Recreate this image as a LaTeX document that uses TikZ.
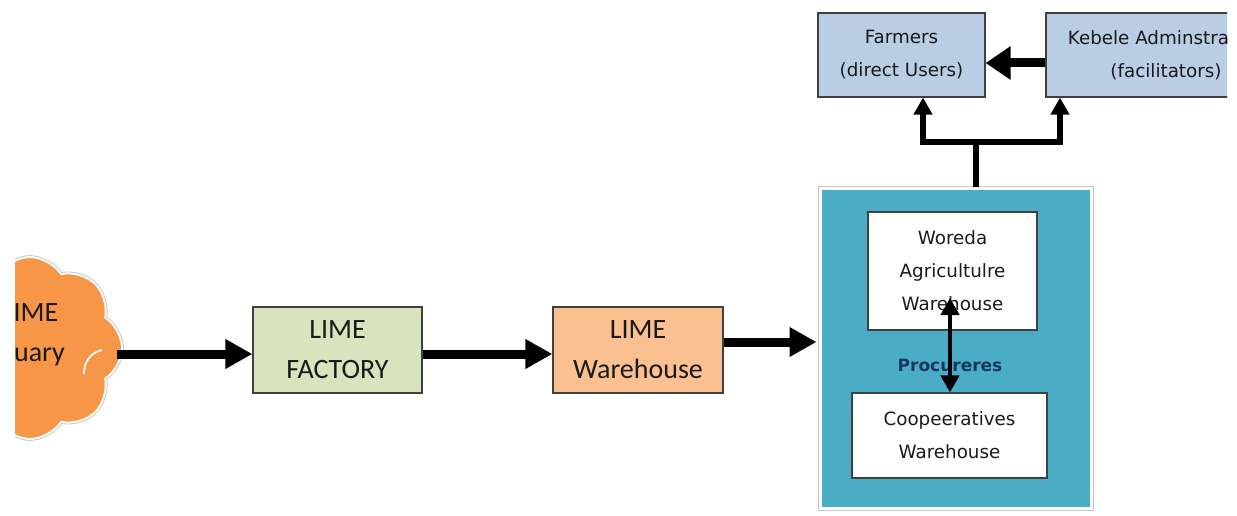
\documentclass[tikz,border=0pt]{standalone}
\usepackage{fontspec}
\setmainfont{Carlito}
\newfontfamily\plainsans{DejaVu Sans}
\usetikzlibrary{arrows.meta,shapes.symbols}

\definecolor{quarryorange}{HTML}{F79646}
\definecolor{factorygreen}{HTML}{D7E4BD}
\definecolor{storeorange}{HTML}{FAC090}
\definecolor{userblue}{HTML}{B9CDE5}
\definecolor{procblue}{HTML}{4BACC6}
\definecolor{navytext}{HTML}{17375E}
\definecolor{boxline}{HTML}{404040}
\definecolor{inktext}{HTML}{1A1A1A}

\begin{document}
\begin{tikzpicture}[x=1pt,y=-1pt,
  box/.style={draw=boxline, line width=1.2pt, inner sep=0pt, align=center, text=inktext},
  bigtext/.style={font=\fontsize{28pt}{40pt}\selectfont},
  smalltext/.style={font=\plainsans\fontsize{18.3pt}{33pt}\selectfont},
  flow/.style={line width=9pt, -{Triangle[length=27pt,width=28pt]}},
  userflow/.style={line width=9pt, -{Triangle[length=25pt,width=32pt]}},
  branch/.style={line width=6pt, line join=miter, -{Triangle[length=17pt,width=18pt]}},
  twoway/.style={line width=4.5pt, {Triangle[length=17pt,width=18pt]}-{Triangle[length=17pt,width=18pt]}}
]
\useasboundingbox (0,0) rectangle (1237,516);

% quarry cloud, cut at the left edge
\begin{scope}
  \clip (15,0) rectangle (1237,516);
  \node[cloud, cloud puffs=8, cloud puff arc=115, aspect=1,
        minimum width=184pt, minimum height=182pt, inner sep=0pt,
        fill=quarryorange, draw=white, line width=2pt,
        preaction={draw=black!25, line width=3.6pt}] (quarry) at (30,348) {};
  \draw[white, line width=1.8pt] (84,374) .. controls (84,362) and (90,353) .. (102,350);
  \node[bigtext, align=center, text=inktext] (quarrytext) at (30,335) {LIME\\Quary};
\end{scope}

% production chain
\node[box, bigtext, fill=factorygreen, minimum width=169pt, minimum height=86pt]
  (factory) at (337.5,350) {LIME\\FACTORY};
\node[box, bigtext, fill=storeorange, minimum width=170pt, minimum height=86pt]
  (store) at (638,350) {LIME\\Warehouse};

% procurers block
\node[fill=procblue, draw=white, line width=3pt, minimum width=271pt, minimum height=320pt,
      inner sep=0pt, preaction={draw=black!22, line width=5pt}]
  (proc) at (955.5,348) {};
\node[box, smalltext, fill=white, minimum width=169pt, minimum height=118pt]
  (woreda) at (952.5,271) {Woreda\\Agricultulre\\Warehouse};
\node[box, smalltext, fill=white, minimum width=195pt, minimum height=85pt]
  (coop) at (949.5,435.5) {Coopeeratives\\Warehouse};
\node[font=\plainsans\bfseries\fontsize{17pt}{20pt}\selectfont, text=navytext]
  (proclabel) at (950,365) {Procureres};

% users
\node[box, smalltext, fill=userblue, minimum width=167pt, minimum height=84pt]
  (farmers) at (901.5,55) {Farmers\\(direct Users)};
\begin{scope}
  \clip (0,0) rectangle (1227,516);
  \node[box, smalltext, fill=userblue, minimum width=240pt, minimum height=84pt]
    (kebele) at (1166,55) {Kebele Adminstration\\(facilitators)};
\end{scope}

% connectors
\coordinate (row) at (0,354);
\draw[flow] ([xshift=-6pt]quarry.east |- row) -- (factory.west |- row);
\draw[flow] (factory.east |- row) -- (store.west |- row);
\coordinate (storeout) at ([yshift=8pt]store.east);
\draw[flow] (storeout) -- ([xshift=-2pt]proc.west |- storeout);

\coordinate (ktof) at (1046,63);
\draw[userflow] (kebele.west |- ktof) -- (farmers.east |- ktof);

\coordinate (fork) at (976,142);
\coordinate (forkl) at (923,142);
\coordinate (forkr) at (1060,142);
\draw[line width=6pt] (proc.north -| fork) -- (fork);
\draw[branch] (forkr) -- (forkl) -- (farmers.south -| forkl);
\draw[branch] (forkl) -- (forkr) -- (kebele.south -| forkr);

\coordinate (dtop) at (950,298);
\draw[twoway] (dtop) -- (coop.north -| dtop);
\end{tikzpicture}
\end{document}
